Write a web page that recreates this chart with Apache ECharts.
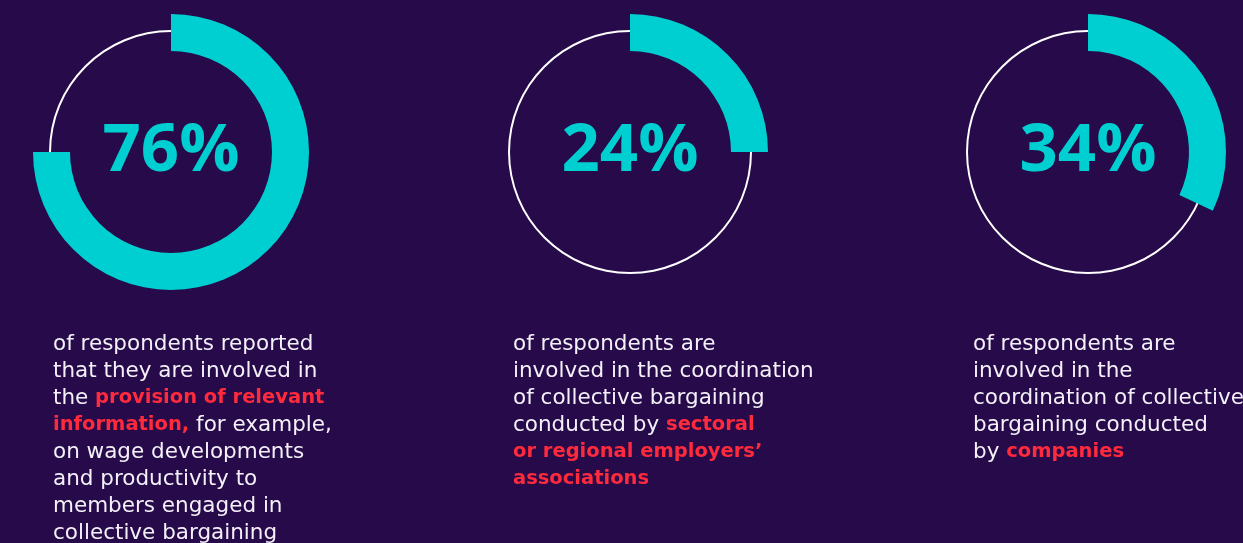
<!DOCTYPE html>
<html><head><meta charset="utf-8">
<script src="https://cdn.jsdelivr.net/npm/echarts@6/dist/echarts.min.js"></script>
<style>html,body{margin:0;padding:0;background:#260a4a;}#c{width:1243px;height:543px;}</style>
</head><body><div id="c"></div>
<script>
const labels = ['76%', '24%', '34%'];
// arc shares as drawn in the picture (percent of full circle)
const arcShares = [75, 25, 32];
// description lines: segments [text, isHighlight]
const desc1 = [
  [['of respondents reported', 0]],
  [['that they are involved in', 0]],
  [['the ', 0], ['provision of relevant', 1]],
  [['information,', 1], [' for example,', 0]],
  [['on wage developments', 0]],
  [['and productivity to', 0]],
  [['members engaged in', 0]],
  [['collective bargaining', 0]]
];
const desc2 = [
  [['of respondents are', 0]],
  [['involved in the coordination', 0]],
  [['of collective bargaining', 0]],
  [['conducted by ', 0], ['sectoral', 1]],
  [['or regional employers\u2019', 1]],
  [['associations', 1]]
];
const desc3 = [
  [['of respondents are', 0]],
  [['involved in the', 0]],
  [['coordination of collective', 0]],
  [['bargaining conducted', 0]],
  [['by ', 0], ['companies', 1]]
];
const descs = [desc1, desc2, desc3];

const CYAN = '#00cfd1', RED = '#ff2a3c', BG = '#260a4a';
const centersX = [171, 630, 1088];
const centerY = 152;
const textX = [53, 513, 973];

const chart = echarts.init(document.getElementById('c'), null, {renderer: 'canvas'});
const series = [];
arcShares.forEach((v, i) => {
  series.push({
    type: 'pie', silent: true, z: 1,
    center: [centersX[i], centerY], radius: [120, 122],
    label: {show: false}, labelLine: {show: false},
    itemStyle: {color: '#ffffff'},
    data: [{value: 1}]
  });
  series.push({
    type: 'pie', silent: true, z: 2,
    center: [centersX[i], centerY], radius: [101, 138],
    startAngle: 90, clockwise: true,
    labelLine: {show: false},
    data: [
      {value: v, itemStyle: {color: CYAN},
       label: {show: true, position: 'center', formatter: labels[i],
               color: CYAN, fontFamily: 'Open Sans', fontWeight: 'bold', fontSize: 67}},
      {value: 100 - v, itemStyle: {color: 'rgba(0,0,0,0)'}, label: {show: false}}
    ]
  });
});

const graphics = descs.map((d, i) => {
  const txt = d.map(line => line.map(([s, h]) => '{' + (h ? 'r' : 'w') + '|' + s + '}').join('')).join('\n');
  return {
    type: 'text', left: textX[i], top: 333, silent: true,
    style: {
      text: txt,
      rich: {
        w: {fill: '#f4f0f8', fontFamily: 'DejaVu Sans', fontSize: 21.5, lineHeight: 27},
        r: {fill: RED, fontFamily: 'DejaVu Sans', fontWeight: 'bold', fontSize: 19.5, lineHeight: 27}
      }
    }
  };
});

chart.setOption({
  backgroundColor: BG,
  animation: false,
  series: series,
  graphic: graphics
});
</script></body></html>
